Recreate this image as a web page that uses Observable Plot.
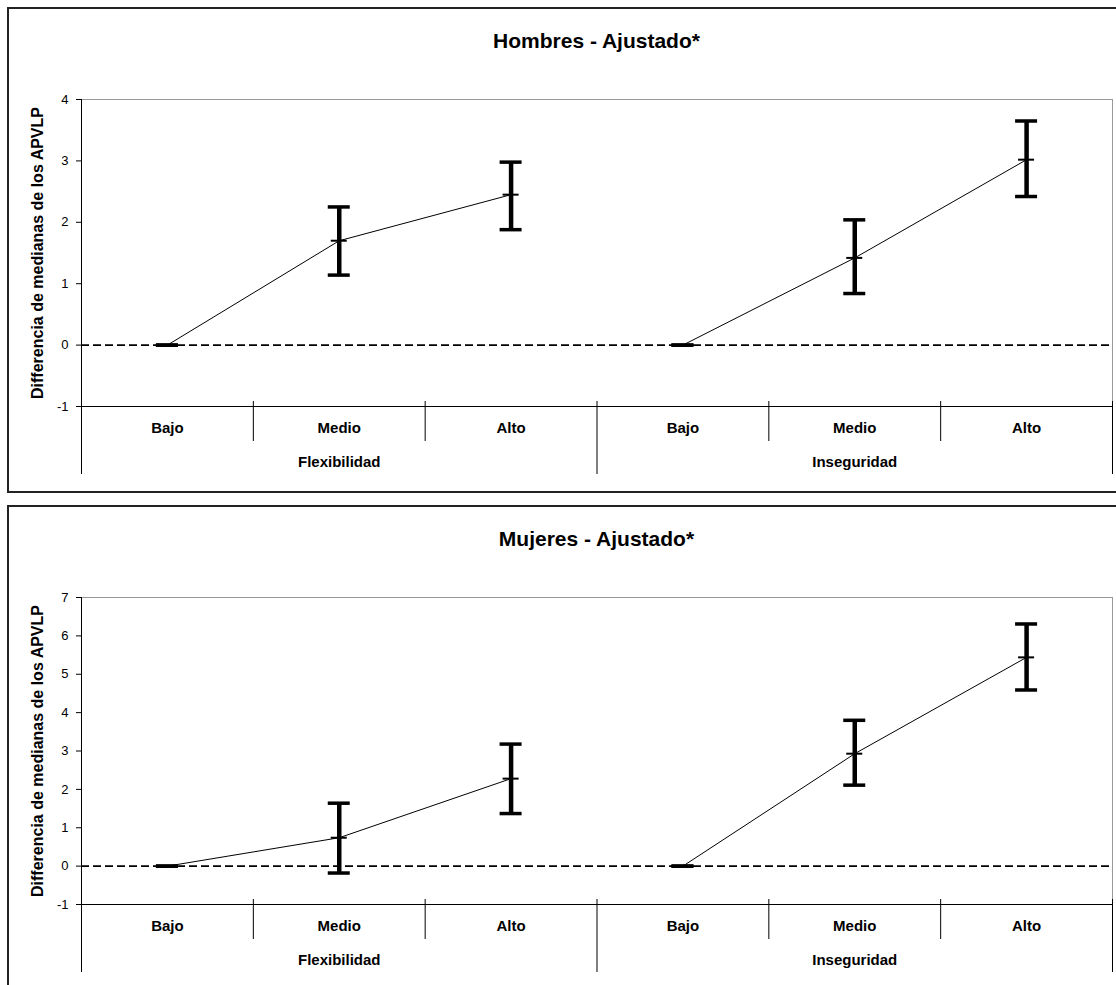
<!DOCTYPE html>
<html>
<head>
<meta charset="utf-8">
<script src="https://cdn.jsdelivr.net/npm/d3@7"></script>
<script src="https://cdn.jsdelivr.net/npm/@observablehq/plot@0.6"></script>
<style>
  html, body { margin: 0; padding: 0; background: #fff; }
  body { width: 1116px; height: 985px; overflow: hidden; position: relative;
         font-family: "Liberation Sans", Arial, sans-serif; }
  .panel { position: absolute; left: 0; width: 1116px; height: 495px; }
  .box { position: absolute; left: 7px; top: 7px; width: 1200px; height: 486px;
         border: 2px solid #222; box-sizing: border-box; }
  .title { position: absolute; left: 81px; width: 1031px; top: 29px; text-align: center;
           font-weight: bold; font-size: 21px; line-height: 24px; color: #000; }
  .panel svg { position: absolute; left: 0; top: 0; overflow: visible; }
</style>
</head>
<body>
<div id="p1" class="panel" style="top:0px"><div class="box"></div><div class="title" id="t1"></div></div>
<div id="p2" class="panel" style="top:498px"><div class="box"></div><div class="title" id="t2"></div></div>
<script>
// ---- data ----
const groups = ["Flexibilidad", "Inseguridad"];
const levels = ["Bajo", "Medio", "Alto"];
const yLabel = "Differencia de medianas de los APVLP";

const hombresTitle = "Hombres - Ajustado*";
const hombresMid = [0, 1.70, 2.45, 0, 1.42, 3.02];
const hombresLo  = [0, 1.14, 1.88, 0, 0.84, 2.42];
const hombresHi  = [0, 2.25, 2.98, 0, 2.04, 3.65];
const hombresTicks = [-1, 0, 1, 2, 3, 4];

const mujeresTitle = "Mujeres - Ajustado*";
const mujeresMid = [0, 0.74, 2.28, 0, 2.93, 5.44];
const mujeresLo  = [0, -0.18, 1.37, 0, 2.11, 4.59];
const mujeresHi  = [0, 1.64, 3.18, 0, 3.80, 6.31];
const mujeresTicks = [-1, 0, 1, 2, 3, 4, 5, 6, 7];

function buildRows(mid, lo, hi) {
  const rows = [];
  groups.forEach((g, gi) => levels.forEach((l, li) => {
    const i = gi * levels.length + li;
    rows.push({group: g, level: l, pos: i + 0.5, mid: mid[i], lo: lo[i], hi: hi[i]});
  }));
  return rows;
}

function chart(mid, lo, hi, ticks) {
  const rows = buildRows(mid, lo, hi);
  const n = groups.length * levels.length;
  const bounds = d3.range(n + 1);
  const longB = bounds.filter(b => b % levels.length === 0);
  const shortB = bounds.filter(b => b % levels.length !== 0);
  const groupRows = groups.map((g, gi) => ({group: g, center: gi * levels.length + levels.length / 2}));
  const ymin = d3.min(ticks), ymax = d3.max(ticks);
  return Plot.plot({
    width: 1116, height: 495,
    marginLeft: 81, marginRight: 4, marginTop: 99, marginBottom: 89,
    x: {domain: [0, n], axis: null},
    y: {domain: [ymin, ymax]},
    style: {fontFamily: '"Liberation Sans", Arial, sans-serif', fontSize: "13px", color: "#000", background: "transparent", overflow: "visible"},
    marks: [
      Plot.frame({stroke: "#999", strokeWidth: 1}),
      Plot.ruleY([0], {stroke: "#000", strokeWidth: 1.6, strokeDasharray: "8,4"}),
      Plot.ruleY([ymin], {stroke: "#000", strokeWidth: 1}),
      Plot.ruleX([0], {stroke: "#000", strokeWidth: 1}),
      Plot.ruleX(shortB, {x: d => d, y1: () => ymin, y2: () => ymin, insetTop: -5, insetBottom: -35, stroke: "#000", strokeWidth: 1}),
      Plot.ruleX(longB, {x: d => d, y1: () => ymin, y2: () => ymin, insetTop: -5, insetBottom: -68, stroke: "#000", strokeWidth: 1}),
      Plot.line(rows, {x: "pos", y: "mid", z: "group", stroke: "#000", strokeWidth: 1}),
      Plot.ruleX(rows, {x: "pos", y1: "lo", y2: "hi", stroke: "#000", strokeWidth: 4.5}),
      Plot.ruleY(rows, {x1: "pos", x2: "pos", y: "hi", insetLeft: -11, insetRight: -11, stroke: "#000", strokeWidth: 3.5}),
      Plot.ruleY(rows, {x1: "pos", x2: "pos", y: "lo", insetLeft: -11, insetRight: -11, stroke: "#000", strokeWidth: 3.5}),
      Plot.ruleY(rows, {x1: "pos", x2: "pos", y: "mid", insetLeft: -8, insetRight: -8, stroke: "#000", strokeWidth: 2}),
      Plot.axisY(ticks, {tickSize: 5, tickPadding: 8, fontSize: 13, label: null, stroke: "#000", tickFormat: d => String(d)}),
      Plot.text(rows, {x: "pos", text: "level", frameAnchor: "bottom", dy: 22, lineAnchor: "middle", fontWeight: "bold", fontSize: 15, fill: "#000"}),
      Plot.text(groupRows, {x: "center", text: "group", frameAnchor: "bottom", dy: 56, lineAnchor: "middle", fontWeight: "bold", fontSize: 15, fill: "#000"}),
      Plot.text([yLabel], {text: d => d, frameAnchor: "left", rotate: -90, dx: -44, textAnchor: "middle", lineAnchor: "middle", fontWeight: "bold", fontSize: 16, fill: "#000"})
    ]
  });
}

document.getElementById("t1").textContent = hombresTitle;
document.getElementById("t2").textContent = mujeresTitle;
document.getElementById("p1").appendChild(chart(hombresMid, hombresLo, hombresHi, hombresTicks));
document.getElementById("p2").appendChild(chart(mujeresMid, mujeresLo, mujeresHi, mujeresTicks));
</script>
</body>
</html>
